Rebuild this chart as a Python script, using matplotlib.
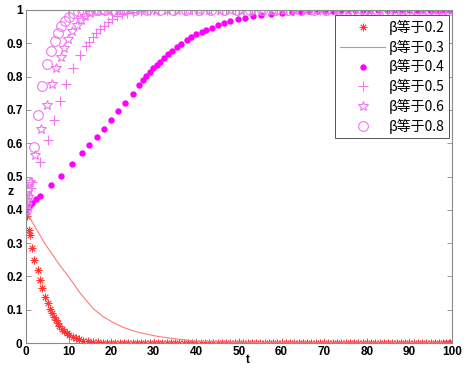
import matplotlib
matplotlib.use("Agg")
import matplotlib.pyplot as plt

# ---------------- data ----------------
# beta = 0.2 (red asterisks)
t02 = [0, 0.15, 0.62, 0.94, 1.4, 1.95, 2.7, 3.3, 3.75, 4.5, 5.1, 5.6, 6.1, 6.6, 7.0, 7.4,
       7.8, 8.45, 9.0, 9.55, 10.2, 10.95, 11.7, 12.5, 13.3, 14.5, 15.7, 16.8,
       18, 19, 20, 21, 22, 23, 24, 25, 26, 27, 28, 29, 30, 31, 32, 33, 34, 35, 36, 37, 38, 39,
       40, 41, 42, 43, 44, 45, 46, 47, 48, 49, 50, 51, 52, 53, 54, 55, 56, 57, 58, 59,
       60, 61, 62, 63, 64, 65, 66, 67, 68, 69, 70, 71, 72, 73, 74, 75, 76, 77, 78, 79,
       80, 81, 82, 83, 84, 85, 86, 87, 88, 89, 90, 91, 92, 93, 94, 95, 96, 97, 98, 98.6, 99.2, 99.6, 100]
z02 = [0.40, 0.381, 0.339, 0.324, 0.284, 0.249, 0.219, 0.189, 0.164, 0.137, 0.119, 0.101, 0.089, 0.079, 0.069, 0.059,
       0.051, 0.043, 0.035, 0.029, 0.023, 0.019, 0.015, 0.011, 0.007, 0.005, 0.003, 0.002,
       0.001, 0.001, 0.001, 0.001, 0, 0, 0, 0, 0, 0, 0, 0, 0, 0, 0, 0, 0, 0, 0, 0, 0, 0,
       0, 0, 0, 0, 0, 0, 0, 0, 0, 0, 0, 0, 0, 0, 0, 0, 0, 0, 0, 0,
       0, 0, 0, 0, 0, 0, 0, 0, 0, 0, 0, 0, 0, 0, 0, 0, 0, 0, 0, 0,
       0, 0, 0, 0, 0, 0, 0, 0, 0, 0, 0, 0, 0, 0, 0, 0, 0, 0, 0, 0, 0, 0, 0]

# beta = 0.3 (line)
t03 = [0, 1.2, 3.0, 4.5, 6.4, 8.0, 10.0, 12.7, 15.7, 18.0, 20.4, 23.0, 25.8, 28.5, 31.3, 36.0, 40.7, 50, 60, 70, 100]
z03 = [0.40, 0.369, 0.330, 0.297, 0.262, 0.232, 0.199, 0.150, 0.104, 0.080, 0.062, 0.046, 0.034, 0.026, 0.019, 0.011, 0.005, 0.002, 0.001, 0.0, 0.0]

# beta = 0.4 (filled dots)
t04 = [0, 0.6, 1.4, 2.35, 3.3, 5.8, 8.3, 10.7, 13.2, 14.9, 16.7, 18.3, 20.0, 21.6, 23.3, 25.0,
       26.6, 27.5, 28.2, 29.0, 29.8, 30.7, 31.5, 32.4, 33.3, 34.3, 35.4, 36.5, 37.7, 38.8, 40.0,
       41.2, 42.3, 43.7, 45.0, 46.5, 48.0, 49.8, 51.5, 53.4, 55.2, 57.4, 60.0, 62.4, 64.6, 66.5,
       68.5, 70.3, 72.0, 73.9, 75.6, 77.2, 79.0, 80.8, 82.6, 84.7, 86.4, 88.3, 89.9, 91.8, 93.2,
       94.8, 96.0, 96.7, 97.6, 98.4, 99.2, 100]
z04 = [0.40, 0.409, 0.421, 0.431, 0.442, 0.474, 0.503, 0.538, 0.571, 0.595, 0.619, 0.643, 0.669, 0.696, 0.722, 0.749,
       0.775, 0.790, 0.802, 0.813, 0.825, 0.835, 0.845, 0.856, 0.867, 0.878, 0.889, 0.899, 0.910, 0.918, 0.927,
       0.933, 0.940, 0.947, 0.954, 0.960, 0.967, 0.972, 0.977, 0.982, 0.986, 0.988, 0.990, 0.993, 0.995, 0.996,
       0.997, 0.998, 0.998, 0.999, 0.999, 0.999, 1.0, 1.0, 1.0, 1.0, 1.0, 1.0, 1.0, 1.0, 1.0,
       1.0, 1.0, 1.0, 1.0, 1.0, 1.0, 1.0]

# beta = 0.5 (plus)
t05 = [0, 0.3, 0.7, 1.1, 1.5, 3.4, 5.2, 6.6, 8.0, 9.5, 10.95, 12.7, 14.1, 14.9, 15.7, 16.4, 17.4,
       18.3, 19.3, 20.3, 21.4, 22.5, 23.6, 25.2, 27, 29, 31, 33, 35, 37, 39, 41, 43, 45, 47, 49,
       51, 53, 55, 57, 59, 61, 63, 65, 67, 69, 71, 73, 75, 77, 79, 81, 83, 85, 87, 89, 91, 93,
       95, 97, 98.5, 100]
z05 = [0.40, 0.42, 0.445, 0.465, 0.484, 0.545, 0.61, 0.67, 0.728, 0.778, 0.825, 0.865, 0.892, 0.905, 0.918, 0.930, 0.942,
       0.953, 0.963, 0.973, 0.982, 0.987, 0.991, 0.995, 0.997, 0.999, 1.0, 1.0, 1.0, 1.0, 1.0, 1.0, 1.0, 1.0, 1.0, 1.0,
       1.0, 1.0, 1.0, 1.0, 1.0, 1.0, 1.0, 1.0, 1.0, 1.0, 1.0, 1.0, 1.0, 1.0, 1.0, 1.0, 1.0, 1.0, 1.0, 1.0, 1.0, 1.0,
       1.0, 1.0, 1.0, 1.0]

# beta = 0.6 (pentagram)
t06 = [0, 0.15, 0.4, 0.94, 2.2, 3.5, 4.9, 6.0, 7.0, 8.1, 8.95, 9.9, 10.9, 11.9, 12.8, 13.8, 15.0, 16.3,
       17.8, 19.5, 21.5, 23.5, 25.5, 28, 30.5, 33, 35.5, 38, 40.5, 43, 45.5, 48, 50.5, 53, 55.5, 58,
       60.5, 63, 65.5, 68, 70.5, 73, 75.5, 78, 80.5, 83, 85.5, 88, 90.5, 93, 95.5, 98, 100]
z06 = [0.40, 0.43, 0.459, 0.484, 0.566, 0.643, 0.716, 0.777, 0.825, 0.860, 0.887, 0.913, 0.937, 0.955, 0.970, 0.983, 0.992, 0.996,
       0.998, 0.999, 1.0, 1.0, 1.0, 1.0, 1.0, 1.0, 1.0, 1.0, 1.0, 1.0, 1.0, 1.0, 1.0, 1.0, 1.0, 1.0,
       1.0, 1.0, 1.0, 1.0, 1.0, 1.0, 1.0, 1.0, 1.0, 1.0, 1.0, 1.0, 1.0, 1.0, 1.0, 1.0, 1.0]

# beta = 0.8 (open circles)
t08 = [0, 0.1, 0.2, 0.35, 0.5, 1.85, 2.9, 3.85, 4.9, 5.9, 6.7, 7.5, 8.3, 9.15, 10.1, 11.1, 12.3, 13.5,
       15, 16.5, 18.5, 20.5, 23, 25.5, 28.5, 31.5, 34.5, 37.5, 40.5, 43.5, 46.5, 49.5, 52.5, 55.5,
       58.5, 61.5, 64.5, 67.5, 70.5, 73.5, 76.5, 79.5, 82.5, 85.5, 88.5, 91.5, 94.5, 97.5, 100]
z08 = [0.40, 0.42, 0.44, 0.461, 0.483, 0.588, 0.685, 0.771, 0.838, 0.876, 0.906, 0.931, 0.951, 0.967, 0.980, 0.990, 0.996, 0.998,
       0.999, 1.0, 1.0, 1.0, 1.0, 1.0, 1.0, 1.0, 1.0, 1.0, 1.0, 1.0, 1.0, 1.0, 1.0, 1.0,
       1.0, 1.0, 1.0, 1.0, 1.0, 1.0, 1.0, 1.0, 1.0, 1.0, 1.0, 1.0, 1.0, 1.0, 1.0]

labels = ["β等于0.2", "β等于0.3", "β等于0.4", "β等于0.5", "β等于0.6", "β等于0.8"]
x_ticks = [0, 10, 20, 30, 40, 50, 60, 70, 80, 90, 100]
y_ticks = [0, 0.1, 0.2, 0.3, 0.4, 0.5, 0.6, 0.7, 0.8, 0.9, 1]
y_ticklabels = ["0", "0.1", "0.2", "0.3", "0.4", "0.5", "0.6", "0.7", "0.8", "0.9", "1"]

# ---------------- plot ----------------
plt.rcParams['font.family'] = ['Liberation Sans', 'DejaVu Sans']

fig = plt.figure(figsize=(4.65, 3.68), dpi=100)
ax = fig.add_axes([26/465, 1-343/368, (452-26)/465, (343-10)/368])

red = '#ff3535'
pink_line = '#ff7a7a'
mag = '#ff00ff'
lmag = '#f274f2'

ax.plot(t02, z02, linestyle='none', marker=(8, 2, 0), markersize=5.5, markeredgewidth=0.6,
        color=red, label=labels[0])
ax.plot(t03, z03, linestyle='-', linewidth=0.8, color=pink_line, label=labels[1])
ax.plot(t04, z04, linestyle='none', marker='o', markersize=4.6, markeredgewidth=0,
        color=mag, label=labels[2])
ax.plot(t05, z05, linestyle='none', marker='+', markersize=7, markeredgewidth=0.8,
        color=lmag, label=labels[3])
ax.plot(t06, z06, linestyle='none', marker='*', markersize=7, markeredgewidth=0.8,
        color=lmag, markerfacecolor='none', label=labels[4])
ax.plot(t08, z08, linestyle='none', marker='o', markersize=7, markeredgewidth=0.8,
        color=lmag, markerfacecolor='none', label=labels[5])

ax.set_xlim(0, 100)
ax.set_ylim(0, 1)
ax.set_xticks(x_ticks)
ax.set_yticks(y_ticks)
ax.set_yticklabels(y_ticklabels)
for lab in ax.get_xticklabels() + ax.get_yticklabels():
    lab.set_fontweight('bold')
    lab.set_fontsize(8.5)
ax.tick_params(direction='in', length=3.5, width=0.6, color='#888888',
               top=True, right=True, pad=2.5)
ax.tick_params(axis='x', pad=2)
for s in ax.spines.values():
    s.set_color('#8a8a8a')
    s.set_linewidth(0.8)

ax.set_xlabel('t', fontsize=8.5, fontweight='bold')
ax.xaxis.set_label_coords((248-26)/426, -(360-343)/333)
ax.xaxis.label.set_va('center')
ax.set_ylabel('z', fontsize=9, fontweight='bold', rotation=0, va='center', ha='center')
ax.yaxis.set_label_coords(-(26-11)/426, (343-192)/333)

leg = ax.legend(loc='upper right', bbox_to_anchor=(449/465, 1-15/368),
                bbox_transform=fig.transFigure, borderaxespad=0,
                prop={'family': ['Noto Sans CJK SC', 'DejaVu Sans'], 'size': 10},
                fancybox=False, framealpha=1, edgecolor='#555555',
                labelspacing=0.33, handlelength=3.2, handletextpad=0.25,
                borderpad=0.35, numpoints=1)
leg.get_frame().set_linewidth(0.7)

fig.savefig('out.png', dpi=100, facecolor='white')
